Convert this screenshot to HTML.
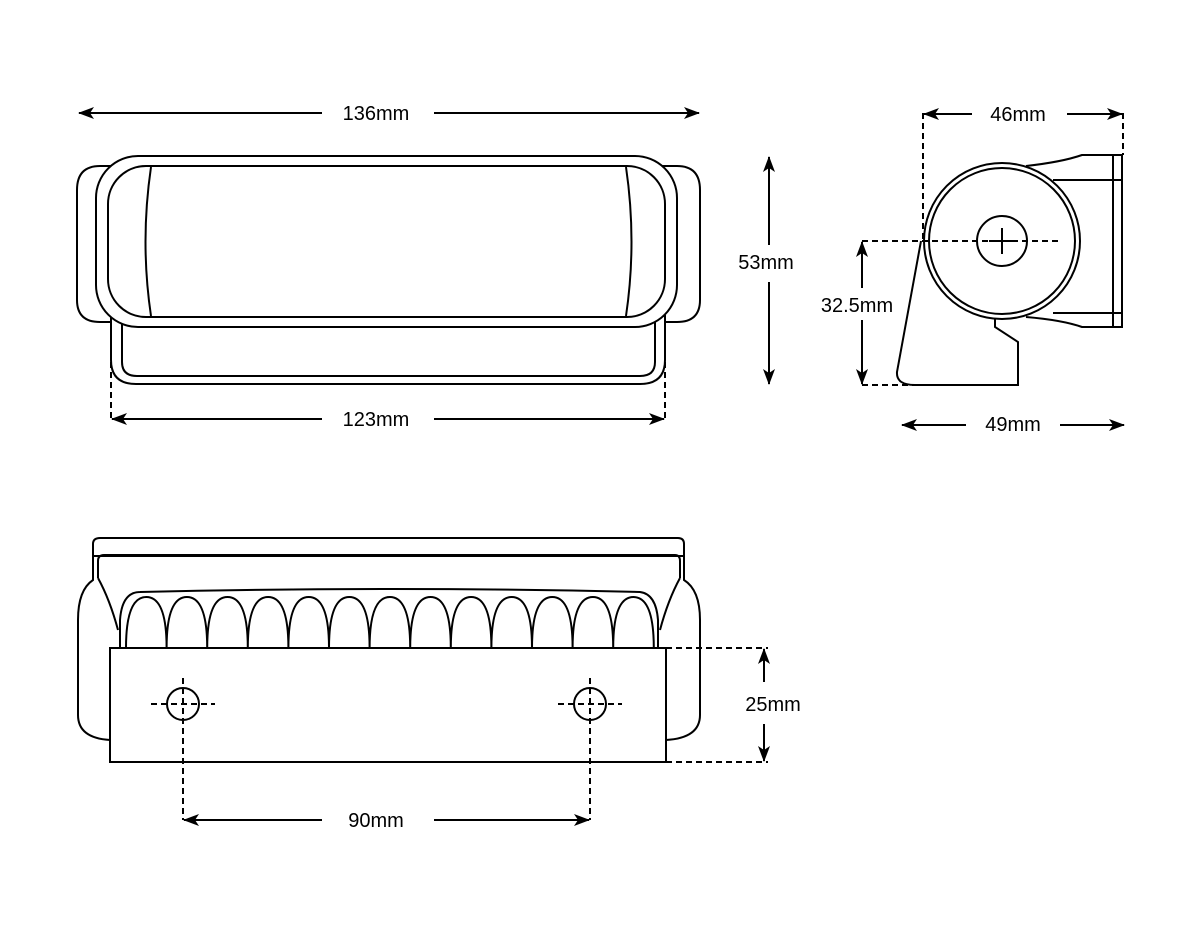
<!DOCTYPE html>
<html><head><meta charset="utf-8"><style>
html,body{margin:0;padding:0;background:#fff;}
svg{display:block}
text{font-family:"Liberation Sans",sans-serif;font-size:20px;fill:#000;}
</style></head><body>
<svg width="1200" height="950" viewBox="0 0 1200 950" xmlns="http://www.w3.org/2000/svg">
<defs>
<marker id="b" viewBox="0 0 16 12" refX="15" refY="6" markerWidth="16" markerHeight="12" orient="auto-start-reverse" markerUnits="userSpaceOnUse"><path d="M0,0 L16,6 L0,12 L4,6 z" fill="#000"/></marker>
</defs>
<g fill="none" stroke="#000" stroke-width="2">
<!-- front view -->
<path d="M100,166 H112 V322 H100 Q77,322 77,300 V190 Q77,166 100,166 Z" fill="#fff"/>
<path d="M663,166 H677 Q700,166 700,190 V300 Q700,322 677,322 H663 Z" fill="#fff"/>
<path d="M111,316 H665 V360 Q665,384 640,384 H136 Q111,384 111,360 Z" fill="#fff"/>
<path d="M122,318 H655 V362 Q655,376 640,376 H137 Q122,376 122,362 Z"/>
<rect x="96" y="156" width="581" height="171" rx="42" fill="#fff"/>
<rect x="108" y="166" width="557" height="151" rx="38"/>
<path d="M151,167 Q140,242 151,316"/>
<path d="M626,167 Q637,242 626,316"/>
<line x1="79" y1="113" x2="322" y2="113" marker-start="url(#b)"/>
<line x1="434" y1="113" x2="699" y2="113" marker-end="url(#b)"/>
<line x1="112" y1="419" x2="322" y2="419" marker-start="url(#b)"/>
<line x1="434" y1="419" x2="664" y2="419" marker-end="url(#b)"/>
<line x1="111" y1="362" x2="111" y2="419" stroke-dasharray="6,4"/>
<line x1="665" y1="362" x2="665" y2="419" stroke-dasharray="6,4"/>
<line x1="769" y1="157" x2="769" y2="245" marker-start="url(#b)"/>
<line x1="769" y1="282" x2="769" y2="384" marker-end="url(#b)"/>
<!-- side view -->
<path d="M1026,166 Q1062,162 1082,155 H1122 V327 H1082 Q1062,320 1026,317" fill="#fff"/>
<line x1="1113" y1="155" x2="1113" y2="327"/>
<line x1="1053" y1="180" x2="1122" y2="180"/>
<line x1="1053" y1="313" x2="1122" y2="313"/>
<path d="M921,241 L897,372 Q896,385 915,385 H1018 V342 L995,327 V318" fill="#fff"/>
<circle cx="1002" cy="241" r="78" fill="#fff"/>
<circle cx="1002" cy="241" r="73"/>
<circle cx="1002" cy="241" r="25"/>
<line x1="1002" y1="228" x2="1002" y2="254"/>
<line x1="989" y1="241" x2="1015" y2="241"/>
<g stroke-dasharray="6,4">
<line x1="923" y1="113" x2="923" y2="241"/>
<line x1="1123" y1="113" x2="1123" y2="155"/>
<line x1="862" y1="241" x2="1060" y2="241"/>
<line x1="862" y1="385" x2="915" y2="385"/>
</g>
<line x1="924" y1="114" x2="972" y2="114" marker-start="url(#b)"/>
<line x1="1067" y1="114" x2="1122" y2="114" marker-end="url(#b)"/>
<line x1="862" y1="242" x2="862" y2="288" marker-start="url(#b)"/>
<line x1="862" y1="320" x2="862" y2="384" marker-end="url(#b)"/>
<line x1="902" y1="425" x2="966" y2="425" marker-start="url(#b)"/>
<line x1="1060" y1="425" x2="1124" y2="425" marker-end="url(#b)"/>
<!-- bottom view -->
<path d="M100,538 H678 Q684,538 684,544 V556 H93 V544 Q93,538 100,538 Z"/>
<path d="M98,578 V561 Q98,555 104,555 H675 Q680,555 680,561 V578"/>
<path d="M93,556 V580 Q78,590 78,620 V715 Q78,738 110,740"/>
<path d="M684,556 V580 Q700,590 700,620 V715 Q700,738 666,740"/>
<path d="M98,578 Q110,600 118,630"/>
<path d="M680,578 Q668,600 660,630"/>
<path d="M120,648 V620 Q122,592 140,592 Q390,586 640,592 Q656,594 658,620 V648" fill="#fff"/>
<path d="M126,648 Q126,597 146.3,597 Q166.6,597 166.6,648 Q166.6,597 186.9,597 Q207.2,597 207.2,648 Q207.2,597 227.5,597 Q247.8,597 247.8,648 Q247.8,597 268.1,597 Q288.4,597 288.4,648 Q288.4,597 308.7,597 Q329,597 329,648 Q329,597 349.3,597 Q369.6,597 369.6,648 Q369.6,597 389.9,597 Q410.2,597 410.2,648 Q410.2,597 430.5,597 Q450.8,597 450.8,648 Q450.8,597 471.1,597 Q491.4,597 491.4,648 Q491.4,597 511.7,597 Q532,597 532,648 Q532,597 552.3,597 Q572.6,597 572.6,648 Q572.6,597 592.9,597 Q613.2,597 613.2,648 Q613.2,597 633.5,597 Q653.8,597 653.8,648"/>
<rect x="110" y="648" width="556" height="114" fill="#fff"/>
<circle cx="183" cy="704" r="16"/>
<circle cx="590" cy="704" r="16"/>
<g stroke-dasharray="6,4">
<line x1="151" y1="704" x2="215" y2="704"/>
<line x1="558" y1="704" x2="622" y2="704"/>
<line x1="183" y1="678" x2="183" y2="820"/>
<line x1="590" y1="678" x2="590" y2="820"/>
<line x1="666" y1="648" x2="768" y2="648"/>
<line x1="666" y1="762" x2="768" y2="762"/>
</g>
<line x1="184" y1="820" x2="322" y2="820" marker-start="url(#b)"/>
<line x1="434" y1="820" x2="589" y2="820" marker-end="url(#b)"/>
<line x1="764" y1="649" x2="764" y2="682" marker-start="url(#b)"/>
<line x1="764" y1="724" x2="764" y2="761" marker-end="url(#b)"/>
</g>
<text x="376" y="120" text-anchor="middle">136mm</text>
<text x="376" y="426" text-anchor="middle">123mm</text>
<text x="766" y="269" text-anchor="middle">53mm</text>
<text x="1018" y="121" text-anchor="middle">46mm</text>
<text x="857" y="312" text-anchor="middle">32.5mm</text>
<text x="1013" y="431" text-anchor="middle">49mm</text>
<text x="376" y="827" text-anchor="middle">90mm</text>
<text x="773" y="711" text-anchor="middle">25mm</text>
</svg>
</body></html>
